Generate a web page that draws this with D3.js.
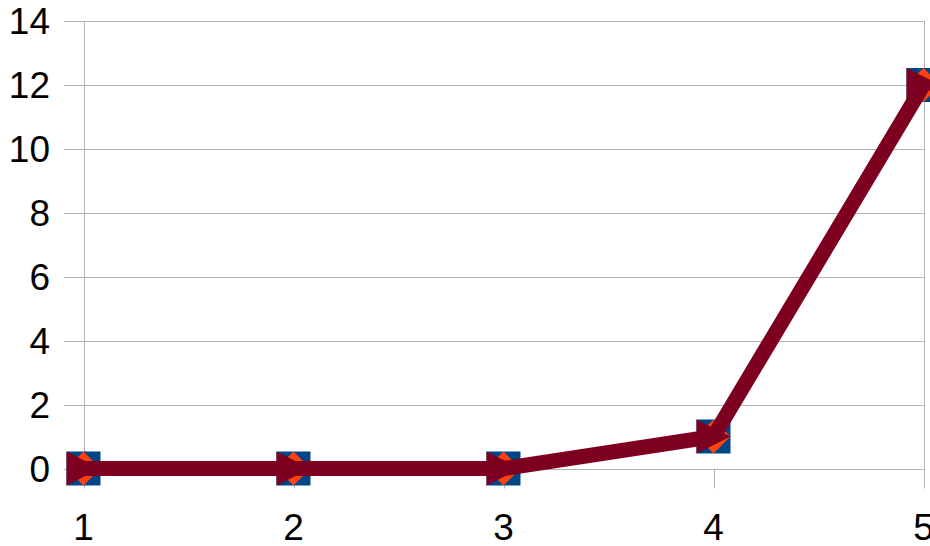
<!DOCTYPE html>
<html>
<head>
<meta charset="utf-8">
<script src="https://cdn.jsdelivr.net/npm/d3@7/dist/d3.min.js"></script>
<style>
  html, body { margin: 0; padding: 0; background: #ffffff; }
  svg { display: block; }
  text { font-family: "Liberation Sans", Arial, sans-serif; fill: #000; }
</style>
</head>
<body>
<svg id="chart" width="930" height="546"></svg>
<script>
// Categories along the x axis
const categories = [1, 2, 3, 4, 5];
// Five series, all carrying the same values
const series1 = [0, 0, 0, 1, 12];
const series2 = [0, 0, 0, 1, 12];
const series3 = [0, 0, 0, 1, 12];
const series4 = [0, 0, 0, 1, 12];
const series5 = [0, 0, 0, 1, 12];
// Y axis tick values
const yTicks = [0, 2, 4, 6, 8, 10, 12, 14];

const seriesList = [
  { values: series1, color: "#004586", symbol: "square",  lineWidth: 2 },
  { values: series2, color: "#ff420e", symbol: "diamond", lineWidth: 2 },
  { values: series3, color: "#ffd320", symbol: "none",    lineWidth: 2 },
  { values: series4, color: "#579d1c", symbol: "none",    lineWidth: 2 },
  { values: series5, color: "#7e0021", symbol: "arrow",   lineWidth: 15 }
];

const svg = d3.select("#chart");
const plotLeft = 83.5, plotRight = 923.5, plotTop = 21, plotBottom = 468.5;

const x = d3.scalePoint().domain(categories).range([plotLeft, plotRight]);
const y = d3.scaleLinear().domain([0, 14]).range([plotBottom, plotTop]);

const grid = "#b3b3b3";
const fontSize = 37;

// Horizontal gridlines, extended left past the axis as tick marks
svg.append("g").selectAll("line").data(yTicks).join("line")
  .attr("x1", plotLeft - 19.5).attr("x2", plotRight)
  .attr("y1", d => Math.round(y(d)) + 0.5).attr("y2", d => Math.round(y(d)) + 0.5)
  .attr("stroke", grid).attr("stroke-width", 1);

// Vertical lines: y axis, category ticks and right border
svg.append("g").selectAll("line").data(categories).join("line")
  .attr("x1", d => Math.round(x(d)) + 0.5).attr("x2", d => Math.round(x(d)) + 0.5)
  .attr("y1", d => (d === categories[0] || d === categories[categories.length - 1]) ? plotTop : plotBottom)
  .attr("y2", plotBottom + 20)
  .attr("stroke", grid).attr("stroke-width", 1);

// Y tick labels
svg.append("g").selectAll("text").data(yTicks).join("text")
  .attr("x", 50).attr("y", d => y(d) + 13.3)
  .attr("text-anchor", "end").attr("font-size", fontSize)
  .text(d => d);

// X tick labels
svg.append("g").selectAll("text").data(categories).join("text")
  .attr("x", d => x(d)).attr("y", 539.5)
  .attr("text-anchor", "middle").attr("font-size", fontSize)
  .text(d => d);

const line = d3.line()
  .x((d, i) => x(categories[i]))
  .y(d => y(d));

const h = 17; // marker half-size
const symbolPath = {
  square:  (cx, cy) => `M${cx - h},${cy - h}H${cx + h}V${cy + h}H${cx - h}Z`,
  diamond: (cx, cy) => `M${cx},${cy - h}L${cx + h},${cy}L${cx},${cy + h}L${cx - h},${cy}Z`,
  arrow:   (cx, cy) => `M${cx - h},${cy - h}L${cx + h},${cy}L${cx - h},${cy + h}Z`
};

seriesList.forEach(s => {
  const g = svg.append("g");
  g.append("path")
    .attr("d", line(s.values))
    .attr("fill", "none")
    .attr("stroke", s.color)
    .attr("stroke-width", s.lineWidth)
    .attr("stroke-linejoin", "round");
  if (s.symbol !== "none") {
    g.selectAll("path.m").data(s.values).join("path")
      .attr("class", "m")
      .attr("d", (d, i) => symbolPath[s.symbol](x(categories[i]), y(d)))
      .attr("fill", s.color);
  }
});
</script>
</body>
</html>
